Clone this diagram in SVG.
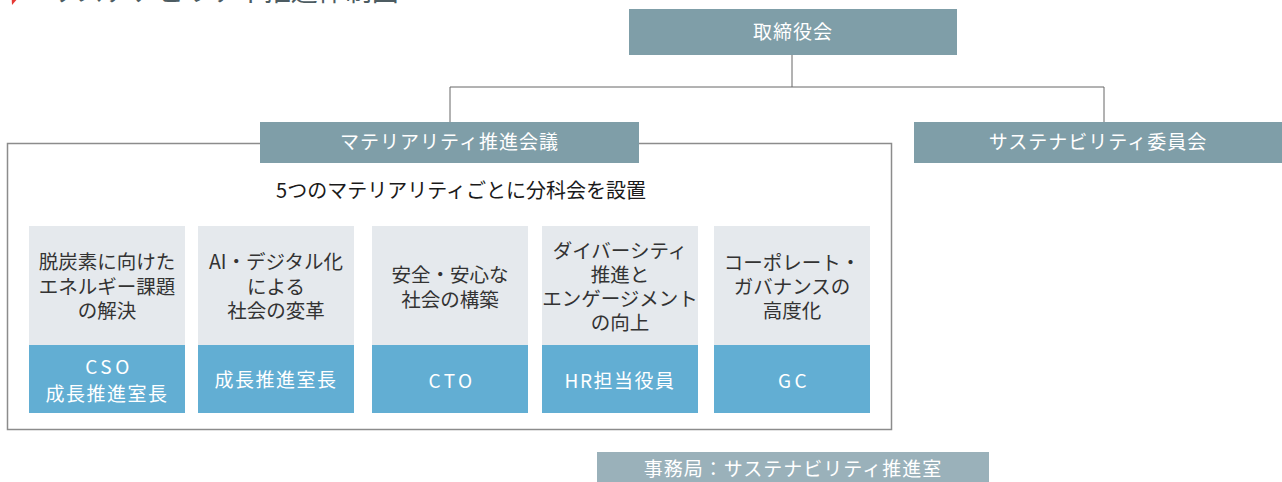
<svg xmlns="http://www.w3.org/2000/svg" width="1282" height="482" viewBox="0 0 1282 482">
<style>
text{font-family:"Noto Sans CJK JP","Noto Sans",sans-serif}
.hd{fill:#7f9ea8}
.hdt{fill:#fff;font-size:19px;text-anchor:middle;letter-spacing:1px}
.top{fill:#e5e9ed}
.bot{fill:#62aed3}
.ct{fill:#333;font-size:19.5px;text-anchor:middle}
.bt{fill:#fff;font-size:19px;text-anchor:middle;letter-spacing:1.5px}
.lat{letter-spacing:3.5px}
.ln{stroke:#666;stroke-width:1;fill:none}
</style>
<rect width="1282" height="482" fill="#fff"/>
<g id="title">
<polygon points="11,-14 19,-3 12,5" fill="#e53935"/>
<text x="50" y="1" style="fill:#4d5c62;font-size:27px">サステナビリティ推進体制図</text>
</g>
<g id="connectors">
<line class="ln" x1="792" y1="55" x2="792" y2="87"/>
<polyline class="ln" points="450,122 450,87 1104,87 1104,122"/>
</g>
<g id="frame">
<rect x="7.5" y="143.5" width="884" height="286" fill="none" stroke="#8c8c8c" stroke-width="1.5"/>
</g>
<g id="board">
<rect class="hd" x="629" y="9" width="328" height="46"/>
<text class="hdt" x="793" y="39">取締役会</text>
</g>
<g id="materiality">
<rect class="hd" x="260" y="122" width="379" height="41"/>
<text class="hdt" x="449.5" y="149">マテリアリティ推進会議</text>
</g>
<g id="committee">
<rect class="hd" x="914" y="122" width="368" height="41"/>
<text class="hdt" x="1098" y="149">サステナビリティ委員会</text>
</g>
<g id="subtitle">
<text x="461" y="198" style="fill:#1a1a1a;font-size:20px;text-anchor:middle">5つのマテリアリティごとに分科会を設置</text>
</g>
<g id="card1">
<rect class="top" x="29" y="226" width="156" height="119"/>
<rect class="bot" x="29" y="345" width="156" height="68"/>
<text class="ct" x="107" y="269">脱炭素に向けた</text>
<text class="ct" x="107" y="294">エネルギー課題</text>
<text class="ct" x="107" y="318">の解決</text>
<text class="bt lat" x="109" y="374">CSO</text>
<text class="bt" x="107" y="401">成長推進室長</text>
</g>
<g id="card2">
<rect class="top" x="198" y="226" width="156" height="119"/>
<rect class="bot" x="198" y="345" width="156" height="68"/>
<text class="ct" x="276" y="269">AI・デジタル化</text>
<text class="ct" x="276" y="294">による</text>
<text class="ct" x="276" y="318">社会の変革</text>
<text class="bt" x="276" y="387">成長推進室長</text>
</g>
<g id="card3">
<rect class="top" x="372" y="226" width="156" height="119"/>
<rect class="bot" x="372" y="345" width="156" height="68"/>
<text class="ct" x="450" y="282">安全・安心な</text>
<text class="ct" x="450" y="307">社会の構築</text>
<text class="bt lat" x="452" y="388">CTO</text>
</g>
<g id="card4">
<rect class="top" x="542" y="226" width="156" height="119"/>
<rect class="bot" x="542" y="345" width="156" height="68"/>
<text class="ct" x="620" y="258">ダイバーシティ</text>
<text class="ct" x="620" y="282">推進と</text>
<text class="ct" x="620" y="306">エンゲージメント</text>
<text class="ct" x="620" y="330">の向上</text>
<text class="bt" x="620" y="388">HR担当役員</text>
</g>
<g id="card5">
<rect class="top" x="714" y="226" width="156" height="119"/>
<rect class="bot" x="714" y="345" width="156" height="68"/>
<text class="ct" x="792" y="270">コーポレート・</text>
<text class="ct" x="792" y="294">ガバナンスの</text>
<text class="ct" x="792" y="318">高度化</text>
<text class="bt lat" x="794" y="388">GC</text>
</g>
<g id="secretariat">
<rect x="597" y="452" width="392" height="30" fill="#9ab1ba"/>
<text class="hdt" x="793" y="476">事務局：サステナビリティ推進室</text>
</g>
</svg>
